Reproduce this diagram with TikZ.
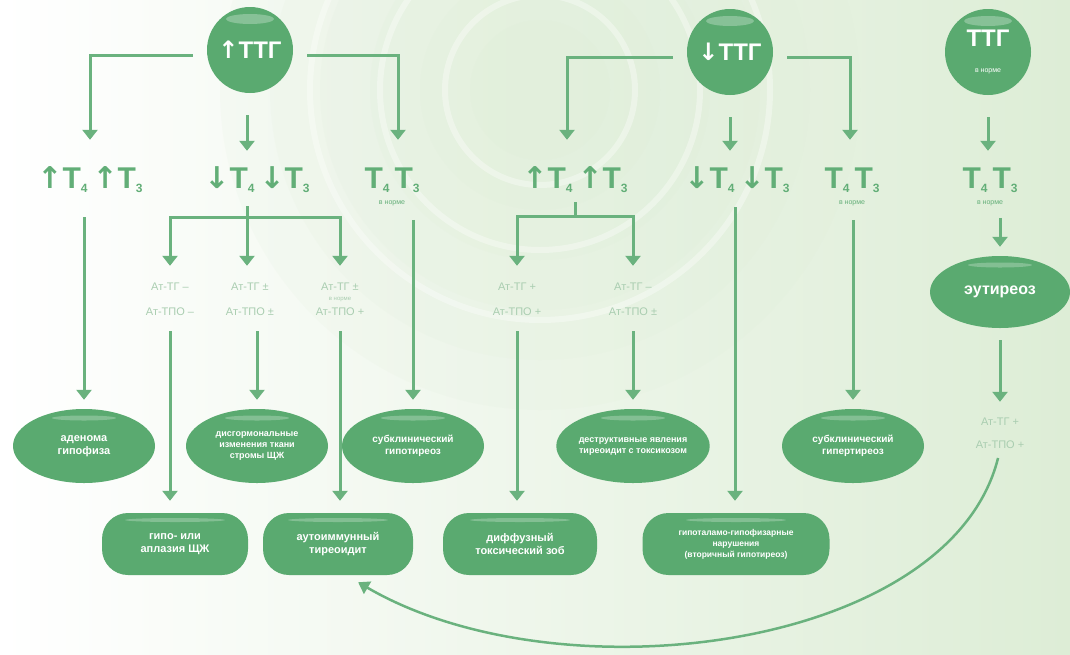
\documentclass[tikz,border=0pt]{standalone}
\usepackage{fontspec}
\setmainfont{Liberation Sans}
\newfontfamily\sym{DejaVu Sans}
\usetikzlibrary{shapes.geometric,arrows.meta}
\definecolor{lg}{HTML}{6AB27E}
\definecolor{cg}{HTML}{5AAA70}
\definecolor{tg}{HTML}{62AE77}
\definecolor{bgg}{HTML}{DDEDD6}
\definecolor{al}{HTML}{A9CDB0}
\newcommand\myup{{\sym ↑}}
\newcommand\mydn{{\sym ↓}}
\newcommand\mysub[1]{\raisebox{-4pt}{\fontsize{12}{12}\selectfont #1}}
\tikzset{
  conn/.style={draw=lg, line width=3pt, -{Triangle[width=15pt,length=10pt]}},
  ln/.style={draw=lg, line width=3pt},
  circ/.style={circle, fill=cg, minimum size=86pt, inner sep=0pt, text=white,
     font=\bfseries\fontsize{24}{24}\selectfont,
     path picture={\fill[white,opacity=.28] ([yshift=-12pt]path picture bounding box.north) ellipse (24pt and 5pt);}},
  tlab/.style={inner sep=0pt, text=tg, font=\bfseries\fontsize{30}{30}\selectfont, text height=22pt, text depth=6pt},
  nlab/.style={inner sep=0pt, text=tg, font=\fontsize{7}{7}\selectfont},
  alab/.style={inner sep=0pt, text=al, font=\fontsize{11}{11}\selectfont, text height=8pt, text depth=2pt},
  ell/.style={ellipse, fill=cg, minimum width=142pt, minimum height=74pt, inner sep=0pt, text=white,
     align=center, font=\bfseries\fontsize{11}{13}\selectfont,
     path picture={\fill[white,opacity=.25] ([yshift=-9pt]path picture bounding box.north) ellipse (32pt and 2.5pt);}},
  pill/.style={rectangle, rounded corners=26pt, fill=cg, minimum height=62pt, inner sep=0pt, text=white,
     align=center, font=\bfseries\fontsize{11}{13}\selectfont,
     path picture={\fill[white,opacity=.25] ([yshift=-7pt]path picture bounding box.north) ellipse (50pt and 2pt);}},
}
\begin{document}
\begin{tikzpicture}[x=1pt,y=-1pt]
\useasboundingbox (0,0) rectangle (1070,654);
% background
\shade[left color=white, right color=bgg] (0,0) rectangle (1070,654);
\foreach \r/\o in {320/.12,270/.12,220/.14,170/.16,120/.16,70/.16}
  \fill[bgg, opacity=\o] (540,90) circle (\r);
\foreach \r in {95,160,230}
  \draw[white, opacity=.35, line width=6pt] (540,90) circle (\r);

% top circles
\node[circ] (c1) at (250,50) {\myup ТТГ};
\node[circ] (c2) at (730,52) {\mydn ТТГ};
\node[circ, align=center] (c3) at (988,52) {ТТГ\\[2pt]{\fontsize{7}{7}\selectfont\mdseries в норме}};

% T labels
\node[tlab] (t1) at (90,180) {\myup T\mysub{4}\,\myup T\mysub{3}};
\node[tlab] (t2) at (257,180) {\mydn T\mysub{4}\,\mydn T\mysub{3}};
\node[tlab] (t3) at (392,180) {T\mysub{4}\,T\mysub{3}};
\node[nlab] (n3) at (392,203) {в норме};
\node[tlab] (t4) at (575,180) {\myup T\mysub{4}\,\myup T\mysub{3}};
\node[tlab] (t5) at (737,180) {\mydn T\mysub{4}\,\mydn T\mysub{3}};
\node[tlab] (t6) at (852,180) {T\mysub{4}\,T\mysub{3}};
\node[nlab] (n6) at (852,203) {в норме};
\node[tlab] (t7) at (990,180) {T\mysub{4}\,T\mysub{3}};
\node[nlab] (n7) at (990,203) {в норме};

% antibody labels
\node[alab] (a1) at (170,287) {Ат-ТГ –};
\node[alab] (p1) at (170,312) {Ат-ТПО –};
\node[alab] (a2) at (250,287) {Ат-ТГ ±};
\node[alab] (p2) at (250,312) {Ат-ТПО ±};
\node[alab] (a3) at (340,287) {Ат-ТГ ±};
\node[alab, font=\fontsize{6}{6}\selectfont, text height=4pt, text depth=1pt] (m3) at (340,299) {в норме};
\node[alab] (p3) at (340,312) {Ат-ТПО +};
\node[alab] (a4) at (517,287) {Ат-ТГ +};
\node[alab] (p4) at (517,312) {Ат-ТПО +};
\node[alab] (a5) at (633,287) {Ат-ТГ –};
\node[alab] (p5) at (633,312) {Ат-ТПО ±};
\node[alab] (a6) at (1000,422) {Ат-ТГ +};
\node[alab] (p6) at (1000,445) {Ат-ТПО +};

% ellipses
\node[ell] (e1) at (84,446) {аденома\\гипофиза};
\node[ell, font=\bfseries\fontsize{9}{11}\selectfont] (e2) at (257,446) {дисгормональные\\изменения ткани\\стромы ЩЖ};
\node[ell, font=\bfseries\fontsize{10}{12}\selectfont] (e3) at (413,446) {субклинический\\гипотиреоз};
\node[ell, font=\bfseries\fontsize{9}{11}\selectfont] (e4) at (633,446) {деструктивные явления\\тиреоидит с токсикозом};
\node[ell, font=\bfseries\fontsize{10}{12}\selectfont] (e5) at (853,446) {субклинический\\гипертиреоз};
\node[ell, font=\bfseries\fontsize{16}{16}\selectfont, minimum width=140pt, minimum height=72pt] (e6) at (1000,292) {эутиреоз};

% bottom boxes
\node[pill, minimum width=146pt] (b1) at (175,544) {гипо- или\\аплазия ЩЖ};
\node[pill, minimum width=150pt] (b2) at (338,544) {аутоиммунный\\тиреоидит};
\node[pill, minimum width=154pt] (b3) at (520,544) {диффузный\\токсический зоб};
\node[pill, minimum width=187pt, font=\bfseries\fontsize{8.5}{11}\selectfont] (b4) at (736,544) {гипоталамо-гипофизарные\\нарушения\\(вторичный гипотиреоз)};

% junction points
\coordinate (j1) at (247,217);
\coordinate (j2) at (575,216);

% connectors from ↑ТТГ
\draw[conn, shorten <=14pt, shorten >=26pt] ([yshift=-5pt]c1.west) -| (t1.north);
\draw[conn, shorten <=14pt, shorten >=26pt] ([yshift=-5pt]c1.east) -| ([xshift=6pt]t3.north);
\draw[conn, shorten <=22pt, shorten >=15pt] (c1.south -| j1) -- (t2.north -| j1);
\draw[conn, shorten <=23pt, shorten >=9pt] (t1.south -| e1.north) -- (e1.north);
\draw[conn, shorten <=14pt, shorten >=9pt] (n3.south -| e3.north) -- (e3.north);
\draw[ln, shorten <=12pt] (t2.south -| j1) -- (j1);
\draw[conn, shorten >=16pt] (j1) -| (a1.north);
\draw[conn, shorten >=16pt] (j1) -- (j1 |- a2.north);
\draw[conn, shorten >=16pt] (j1) -| (a3.north);
\draw[conn, shorten <=14pt, shorten >=12pt] (p1.south) -- (p1.south |- b1.north);
\draw[conn, shorten <=14pt, shorten >=9pt] (p2.south -| e2.north) -- (e2.north);
\draw[conn, shorten <=14pt, shorten >=12pt] (p3.south) -- (p3.south |- b2.north);

% connectors from ↓ТТГ
\draw[conn, shorten <=14pt, shorten >=26pt] ([yshift=-5pt]c2.west) -| ([xshift=-8pt]t4.north);
\draw[conn, shorten <=14pt, shorten >=26pt] ([yshift=-5pt]c2.east) -| ([xshift=-2pt]t6.north);
\draw[conn, shorten <=22pt, shorten >=15pt] (c2.south) -- (c2.south |- t5.north);
\draw[ln, shorten <=8pt] (t4.south -| j2) -- (j2);
\draw[conn, shorten >=16pt] (j2) -| (a4.north);
\draw[conn, shorten >=16pt] (j2) -| (a5.north);
\draw[conn, shorten <=14pt, shorten >=12pt] (p4.south) -- (p4.south |- b3.north);
\draw[conn, shorten <=14pt, shorten >=9pt] (p5.south) -- (p5.south |- e4.north);
\draw[conn, shorten <=13pt, shorten >=12pt] ([xshift=-2pt]t5.south) -- ([xshift=-2pt]t5.south |- b4.north);
\draw[conn, shorten <=14pt, shorten >=9pt] (n6.south -| e5.north) -- (e5.north);

% ТТГ в норме
\draw[conn, shorten <=22pt, shorten >=15pt] (c3.south) -- (c3.south |- t7.north);
\draw[conn, shorten <=12pt, shorten >=9pt] (n7.south -| e6.north) -- (e6.north);
\draw[conn, shorten <=12pt, shorten >=15pt] (e6.south) -- (e6.south |- a6.north);
\draw[draw=lg, line width=2.5pt, -{Triangle[width=14pt,length=11pt]}, shorten <=8pt, shorten >=14pt]
  (p6.south) .. controls (950,650) and (560,700) .. ([xshift=8pt]b2.south);
\end{tikzpicture}
\end{document}
